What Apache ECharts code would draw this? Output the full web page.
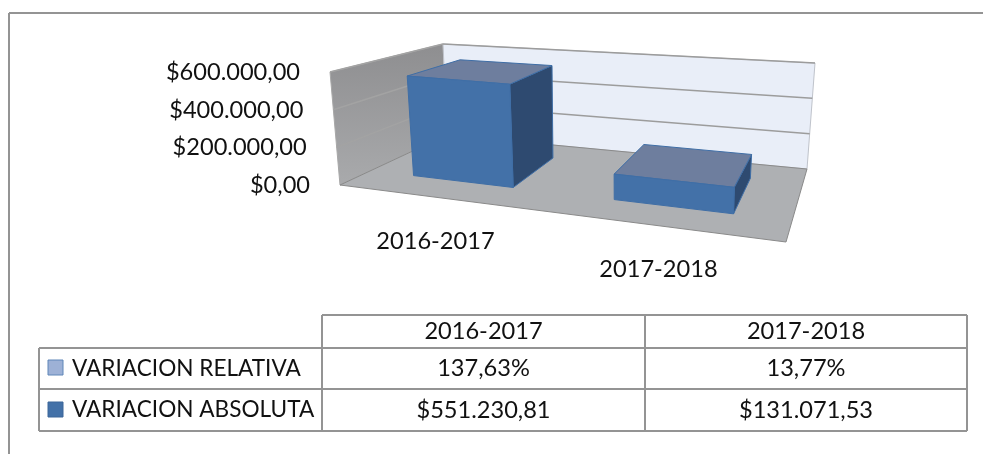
<!DOCTYPE html>
<html>
<head>
<meta charset="utf-8">
<style>
  html, body { margin: 0; padding: 0; background: #fff; }
  #chart { width: 983px; height: 454px; }
</style>
<script src="https://cdn.jsdelivr.net/npm/echarts@6/dist/echarts.min.js"></script>
</head>
<body>
<div id="chart"></div>
<script>
// data
var categories = ["2016-2017", "2017-2018"];
var relativeValues = [137.63, 13.77];
var absoluteValues = [551230.81, 131071.53];
var valueTicks = [0, 200000, 400000, 600000];
var relativeName = "VARIACION RELATIVA";
var absoluteName = "VARIACION ABSOLUTA";

var FONT = "Lato";
var TEXT_SIZE = 23.6;
var NAME_SIZE = 22.6;
var TEXT_COLOR = "#111";
var LINE_COLOR = "#949494";

// hidden cartesian grid the 3d box is projected from
var GRID = { left: 318, top: 73, width: 500, height: 113 };

// corners of the box on screen
var FLOOR = { fl: [340, 185], fr: [786, 242], bl: [447, 135], br: [807, 169] };
var TOP = { fl: [330, 72], fr: [790, 111], bl: [443, 44], br: [815, 63] };

var BAR_RATIO = 0.26; // of the category band
var BAR_FRONT = 0.29;
var BAR_BACK = 0.8;

function money(v) {
  var parts = v.toFixed(2).split(".");
  return "$" + parts[0].replace(/\B(?=(\d{3})+(?!\d))/g, ".") + "," + parts[1];
}
function percent(v) {
  return v.toFixed(2).replace(".", ",") + "%";
}
function lerp(a, b, t) {
  return [a[0] + (b[0] - a[0]) * t, a[1] + (b[1] - a[1]) * t];
}
function plane(q, u, d) {
  return lerp(lerp(q.fl, q.fr, u), lerp(q.bl, q.br, u), d);
}
// t: 0..1 along the category axis, d: 0 front..1 back, v: 0..1 of the value axis
function project(t, d, v) {
  var u = 0.82 * t + 0.18 * t * t;
  return lerp(plane(FLOOR, u, d), plane(TOP, u, d), v);
}
function face(points, fill, stroke) {
  return {
    type: "polygon",
    shape: { points: points },
    style: { fill: fill, stroke: stroke || "#3f6ea6", lineWidth: 1, lineJoin: "round" },
  };
}
function edge(a, b, color, width) {
  return {
    type: "line",
    shape: { x1: a[0], y1: a[1], x2: b[0], y2: b[1] },
    style: { stroke: color, lineWidth: width || 1.5 },
  };
}
function label(str, x, y, align, size) {
  return {
    type: "text",
    silent: true,
    style: {
      x: x,
      y: y,
      text: str,
      font: (size || TEXT_SIZE) + "px " + FONT,
      fill: TEXT_COLOR,
      align: align || "center",
      verticalAlign: "middle",
    },
  };
}

function renderBox(params, api) {
  var maxValue = valueTicks[valueTicks.length - 1];
  var children = [
    face(
      [project(0, 0, 0), project(0, 1, 0), project(0, 1, 1), project(0, 0, 1)],
      {
        type: "linear", x: 0, y: 0, x2: 0, y2: 1,
        colorStops: [
          { offset: 0, color: "#8e8e90" },
          { offset: 1, color: "#a9aaac" },
        ],
      },
      "#a8a8a8"
    ),
    face([project(0, 1, 0), project(1, 1, 0), project(1, 1, 1), project(0, 1, 1)], "#e9eef8", "#bfc3cb"),
    face([project(0, 0, 0), project(1, 0, 0), project(1, 1, 0), project(0, 1, 0)], "#aeb0b3", "#8a8a8a"),
  ];
  valueTicks.forEach(function (tick) {
    var v = tick / maxValue;
    if (tick > 0) {
      children.push(edge(project(0, 0, v), project(0, 1, v), "#a3a3a3"));
      children.push(edge(project(0, 1, v), project(1, 1, v), "#9c9c9c"));
    }
    // tick labels follow the slanted front edge of the left wall
    var p = project(0, 0, v);
    children.push(label(money(tick), p[0] - 30, p[1] + 0.5, "right"));
  });
  return { type: "group", children: children };
}

function renderBar(params, api) {
  var pos = api.coord([api.value(0), api.value(1)]);
  var band = api.size([1, 0])[0];
  var t = (pos[0] - GRID.left) / GRID.width;
  var half = (band * BAR_RATIO) / GRID.width;
  var v = (GRID.top + GRID.height - pos[1]) / GRID.height;
  var t0 = t - half;
  var t1 = t + half;
  return {
    type: "group",
    children: [
      face([project(t1, BAR_FRONT, 0), project(t1, BAR_BACK, 0), project(t1, BAR_BACK, v), project(t1, BAR_FRONT, v)], "#2e4a70"),
      face([project(t0, BAR_FRONT, v), project(t1, BAR_FRONT, v), project(t1, BAR_BACK, v), project(t0, BAR_BACK, v)], "#6e7e9e"),
      face([project(t0, BAR_FRONT, 0), project(t1, BAR_FRONT, 0), project(t1, BAR_FRONT, v), project(t0, BAR_FRONT, v)], "#4371a8"),
    ],
  };
}

function renderCategoryLabel(params, api) {
  var pos = api.coord([api.value(0), 0]);
  var p = project((pos[0] - GRID.left) / GRID.width, 0, 0);
  return label(categories[api.value(0)], p[0] - 1, p[1] + 44);
}

// table under the chart
var COL = [39, 322, 645, 967];
var ROW = [315, 348, 389, 431];
function rule(x1, y1, x2, y2, width) {
  return { type: "line", silent: true, shape: { x1: x1, y1: y1, x2: x2, y2: y2 }, style: { stroke: LINE_COLOR, lineWidth: width || 2 } };
}
function swatch(y, fill, stroke) {
  return { type: "rect", silent: true, shape: { x: 48, y: y, width: 15, height: 15 }, style: { fill: fill, stroke: stroke, lineWidth: 1 } };
}

var tableElements = [
  // chart border
  rule(9, 13, 983, 13),
  rule(9, 13, 9, 454),
  rule(COL[1], ROW[0], COL[3], ROW[0]),
  rule(COL[0], ROW[1], COL[3], ROW[1]),
  rule(COL[0], ROW[2], COL[3], ROW[2]),
  rule(COL[0], ROW[3], COL[3], ROW[3]),
  rule(COL[0], ROW[1], COL[0], ROW[3]),
  rule(COL[1], ROW[0], COL[1], ROW[3]),
  rule(COL[2], ROW[0], COL[2], ROW[3]),
  rule(COL[3], ROW[0], COL[3], ROW[3]),
  swatch(360, "#9db1d6", "#5f86b8"),
  swatch(402, "#4371a8", "#3d6699"),
  label(relativeName, 72, (ROW[1] + ROW[2]) / 2, "left", NAME_SIZE),
  label(absoluteName, 72, (ROW[2] + ROW[3]) / 2, "left", NAME_SIZE),
];
categories.forEach(function (name, i) {
  var x = (COL[i + 1] + COL[i + 2]) / 2;
  tableElements.push(label(name, x, (ROW[0] + ROW[1]) / 2));
  tableElements.push(label(percent(relativeValues[i]), x, (ROW[1] + ROW[2]) / 2));
  tableElements.push(label(money(absoluteValues[i]), x, (ROW[2] + ROW[3]) / 2));
});

var chart = echarts.init(document.getElementById("chart"));
chart.setOption({
  animation: false,
  backgroundColor: "#fff",
  grid: GRID,
  xAxis: { type: "category", data: categories, show: false },
  yAxis: {
    type: "value",
    min: 0,
    max: 600000,
    interval: 200000,
    show: false,
  },
  graphic: tableElements,
  series: [
    { type: "custom", name: "box", renderItem: renderBox, data: [[0, 0]], silent: true },
    {
      type: "custom",
      name: absoluteName,
      renderItem: renderBar,
      data: absoluteValues.map(function (v, i) { return [i, v]; }),
      encode: { x: 0, y: 1 },
    },
    {
      type: "custom",
      name: "labels",
      renderItem: renderCategoryLabel,
      data: categories.map(function (c, i) { return [i, 0]; }),
      encode: { x: 0, y: 1 },
    },
  ],
});
</script>
</body>
</html>
